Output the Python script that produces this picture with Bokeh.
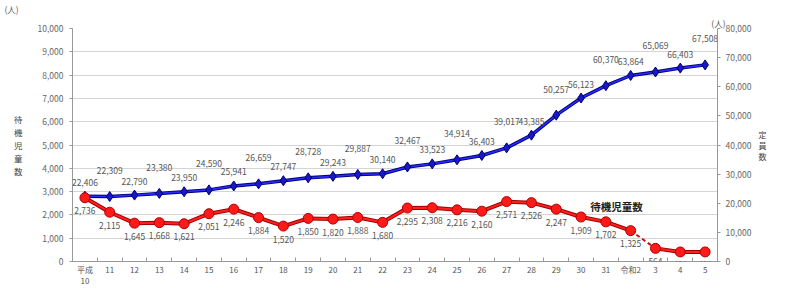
from bokeh.plotting import figure
from bokeh.models import (Range1d, LinearAxis, FixedTicker, NumeralTickFormatter,
                          ColumnDataSource, LabelSet, Label, Title)
from bokeh.embed import file_html
from bokeh.resources import INLINE
from bokeh.core.properties import value

# ---- data ----
years = ["平成\n10", "11", "12", "13", "14", "15", "16", "17", "18", "19", "20", "21",
         "22", "23", "24", "25", "26", "27", "28", "29", "30", "31", "令和2", "3", "4", "5"]
waiting = [2736, 2115, 1645, 1668, 1621, 2051, 2246, 1884, 1520, 1850, 1820, 1888,
           1680, 2295, 2308, 2216, 2160, 2571, 2526, 2247, 1909, 1702, 1325, 564, 409, 411]
capacity = [22406, 22309, 22790, 23380, 23950, 24590, 25941, 26659, 27747, 28728, 29243,
            29887, 30140, 32467, 33523, 34914, 36403, 39017, 43385, 50257, 56123, 60370,
            63864, 65069, 66403, 67508]
left_ticks = list(range(0, 10001, 1000))
right_ticks = list(range(0, 80001, 10000))

FONT = "Noto Sans CJK JP"
n = len(years)
xs = list(range(n))

W, H = 769, 288
p = figure(width=W, height=H, output_backend="svg", toolbar_location=None,
           x_range=Range1d(-0.5, n - 0.5), y_range=Range1d(0, 10000),
           min_border_left=72, min_border_right=48, min_border_top=2, min_border_bottom=22)
p.extra_y_ranges = {"right": Range1d(0, 80000)}
p.outline_line_color = None
p.background_fill_color = "white"

# unit captions above the frame
p.add_layout(Title(text="(人)", align="right", offset=-8, standoff=0,
                   text_font=FONT, text_font_size="8.5px", text_font_style="normal",
                   text_color="#555555"), "above")
p.add_layout(Title(text="(人)", align="left", offset=-68, standoff=0,
                   text_font=FONT, text_font_size="8.5px", text_font_style="normal",
                   text_color="#555555"), "above")

# grid
p.xgrid.grid_line_color = None
p.ygrid.grid_line_color = "#d4d4d4"
p.ygrid.grid_line_width = 1

# x axis
xa = p.xaxis[0]
xa.ticker = FixedTicker(ticks=xs, minor_ticks=[i + 0.5 for i in range(-1, n)])
xa.major_label_overrides = {i: lab for i, lab in enumerate(years)}
xa.major_tick_line_color = None
xa.major_tick_in = 0
xa.major_tick_out = 0
xa.minor_tick_in = 4
xa.minor_tick_out = 0
xa.minor_tick_line_color = "#999999"
xa.axis_line_color = "#999999"
xa.major_label_text_font = FONT
xa.major_label_text_font_size = "8px"
xa.major_label_text_line_height = 1.0
xa.major_label_text_color = "#555555"
xa.major_label_standoff = 2

# left axis
ya = p.yaxis[0]
ya.ticker = FixedTicker(ticks=left_ticks)
ya.formatter = NumeralTickFormatter(format="0,0")
ya.axis_line_color = "#999999"
ya.major_tick_line_color = "#999999"
ya.major_tick_in = 0
ya.major_tick_out = 3
ya.minor_tick_line_color = None
ya.major_label_text_font = FONT
ya.major_label_text_font_size = "8.5px"
ya.major_label_text_color = "#666666"
ya.major_label_standoff = 6
ya.axis_label = "待\n機\n児\n童\n数"
ya.axis_label_orientation = "horizontal"
ya.axis_label_standoff = 12
ya.axis_label_text_font = FONT
ya.axis_label_text_font_size = "8.5px"
ya.axis_label_text_font_style = "normal"
ya.axis_label_text_color = "#444444"
ya.axis_label_text_line_height = 1.1

# right axis
ra = LinearAxis(y_range_name="right", ticker=FixedTicker(ticks=right_ticks),
                formatter=NumeralTickFormatter(format="0,0"))
ra.axis_line_color = "#999999"
ra.major_tick_line_color = "#999999"
ra.major_tick_in = 0
ra.major_tick_out = 3
ra.minor_tick_line_color = None
ra.major_label_text_font = FONT
ra.major_label_text_font_size = "8.5px"
ra.major_label_text_color = "#666666"
ra.major_label_standoff = 5
ra.axis_label = "定\n員\n数"
ra.axis_label_orientation = "horizontal"
ra.axis_label_standoff = 4
ra.axis_label_text_font = FONT
ra.axis_label_text_font_size = "8px"
ra.axis_label_text_font_style = "normal"
ra.axis_label_text_color = "#444444"
ra.axis_label_text_line_height = 1.0
p.add_layout(ra, "right")

# ---- blue: capacity (right axis) ----
p.line(xs, capacity, y_range_name="right", line_color="#00007a", line_width=3.5)
p.line(xs, capacity, y_range_name="right", line_color="#2a2aff", line_width=1.6)
p.scatter(xs, capacity, y_range_name="right", marker="diamond", size=10,
          fill_color="#1818c8", line_color="#000070", line_width=1)

# ---- red: waiting children (left axis) ----
solid_a = slice(0, 23)
solid_b = slice(23, n)
for sl in (solid_a, solid_b):
    p.line(xs[sl], waiting[sl], line_color="#a00000", line_width=4)
    p.line(xs[sl], waiting[sl], line_color="#ff2020", line_width=2)
p.line(xs[22:24], waiting[22:24], line_color="#d01010", line_width=2, line_dash="4 3")
p.scatter(xs, waiting, marker="circle", size=10, fill_color="#ff1a1a",
          line_color="#b00000", line_width=1)

# ---- data labels ----
blue_src = ColumnDataSource(dict(
    x=xs, y=capacity, t=[f"{v:,}" for v in capacity],
    off=[14 if i % 2 == 0 else 26 for i in range(n)]))
p.add_layout(LabelSet(x="x", y="y", text="t", y_offset="off", source=blue_src,
                      y_range_name="right", text_align="center", text_baseline="middle",
                      text_font=value(FONT), text_font_size="8.5px", text_color="#555555"))
red_src = ColumnDataSource(dict(x=xs, y=waiting, t=[f"{v:,}" for v in waiting]))
p.add_layout(LabelSet(x="x", y="y", text="t", y_offset=-13, source=red_src,
                      text_align="center", text_baseline="middle",
                      text_font=value(FONT), text_font_size="8.5px", text_color="#555555"))

# series caption inside the plot
p.add_layout(Label(x=544, y=2370, x_units="screen", y_units="data", text="待機児童数",
                   text_font=FONT, text_font_size="10.5px", text_align="center",
                   text_baseline="middle", text_color="#222222", text_font_style="bold"))

open("out.html", "w").write(file_html(p, INLINE))
